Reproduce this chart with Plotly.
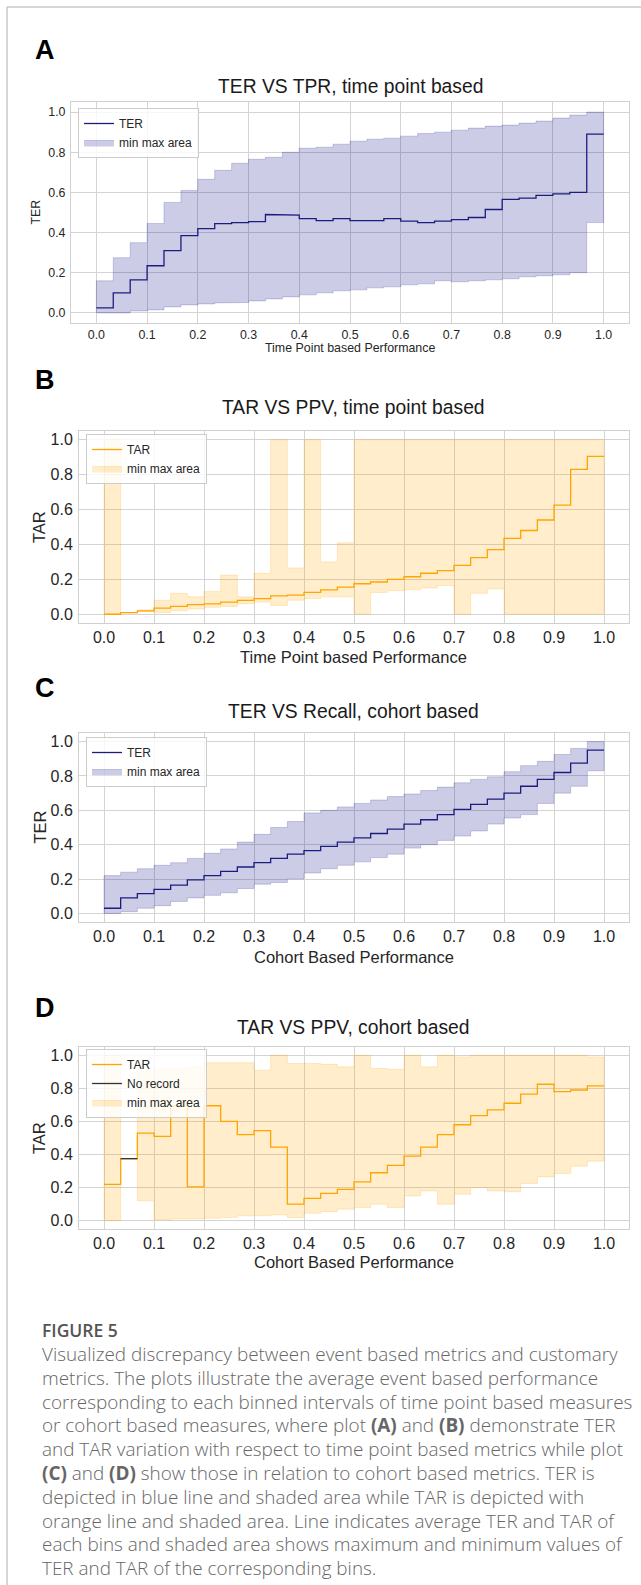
import plotly.graph_objects as go

# ---------------- data ----------------
BIN_EDGES = [0.0, 0.0333, 0.0667, 0.1, 0.1333, 0.1667, 0.2, 0.2333, 0.2667, 0.3,
             0.3333, 0.3667, 0.4, 0.4333, 0.4667, 0.5, 0.5333, 0.5667, 0.6, 0.6333,
             0.6667, 0.7, 0.7333, 0.7667, 0.8, 0.8333, 0.8667, 0.9, 0.9333, 0.9667, 1.0]

# A: TER vs TPR, time point based
ter_tp_mean = [0.025, 0.10, 0.165, 0.235, 0.31, 0.385, 0.42, 0.445, 0.45, 0.455,
               0.49, 0.487, 0.47, 0.46, 0.47, 0.46, 0.46, 0.47, 0.457, 0.45,
               0.457, 0.465, 0.475, 0.515, 0.565, 0.572, 0.585, 0.593, 0.60, 0.89]
ter_tp_max = [0.16, 0.275, 0.35, 0.445, 0.55, 0.61, 0.665, 0.71, 0.745, 0.765,
              0.775, 0.80, 0.82, 0.825, 0.84, 0.855, 0.865, 0.87, 0.88, 0.893,
              0.90, 0.91, 0.92, 0.93, 0.935, 0.945, 0.955, 0.97, 0.985, 1.0]
ter_tp_min = [0.0, 0.0, 0.01, 0.015, 0.03, 0.04, 0.045, 0.05, 0.052, 0.06,
              0.07, 0.08, 0.09, 0.10, 0.11, 0.115, 0.125, 0.13, 0.14, 0.145,
              0.16, 0.155, 0.16, 0.165, 0.17, 0.18, 0.185, 0.19, 0.20, 0.45]

# B: TAR vs PPV, time point based
tar_tp_mean = [0.0, 0.01, 0.02, 0.035, 0.045, 0.055, 0.06, 0.07, 0.08, 0.09,
               0.105, 0.11, 0.125, 0.14, 0.155, 0.175, 0.185, 0.20, 0.215, 0.235,
               0.25, 0.28, 0.325, 0.37, 0.435, 0.48, 0.54, 0.625, 0.83, 0.905]
tar_tp_max = [1.0, 0.01, 0.025, 0.08, 0.12, 0.10, 0.13, 0.225, 0.10, 0.235,
              1.0, 0.265, 1.0, 0.30, 0.41, 1.0, 1.0, 1.0, 1.0, 1.0,
              1.0, 1.0, 1.0, 1.0, 1.0, 1.0, 1.0, 1.0, 1.0, 1.0]
tar_tp_min = [0.0, 0.01, 0.015, 0.01, 0.02, 0.03, 0.04, 0.045, 0.06, 0.07,
              0.05, 0.08, 0.09, 0.10, 0.10, 0.0, 0.125, 0.135, 0.14, 0.15,
              0.165, 0.0, 0.12, 0.145, 0.0, 0.0, 0.0, 0.0, 0.0, 0.0]

# C: TER vs Recall, cohort based
ter_co_mean = [0.03, 0.09, 0.115, 0.14, 0.165, 0.195, 0.22, 0.245, 0.27, 0.295,
               0.32, 0.345, 0.365, 0.39, 0.415, 0.44, 0.465, 0.49, 0.52, 0.545,
               0.575, 0.605, 0.635, 0.665, 0.70, 0.74, 0.78, 0.82, 0.875, 0.95]
ter_co_max = [0.22, 0.24, 0.26, 0.28, 0.295, 0.32, 0.35, 0.375, 0.415, 0.46,
              0.50, 0.535, 0.585, 0.60, 0.62, 0.64, 0.66, 0.68, 0.695, 0.715,
              0.735, 0.76, 0.78, 0.795, 0.825, 0.86, 0.885, 0.925, 0.96, 1.0]
ter_co_min = [0.0, 0.01, 0.03, 0.045, 0.07, 0.09, 0.105, 0.12, 0.145, 0.17,
              0.18, 0.20, 0.235, 0.26, 0.28, 0.30, 0.325, 0.345, 0.38, 0.40,
              0.425, 0.45, 0.48, 0.52, 0.555, 0.575, 0.64, 0.70, 0.74, 0.83]

# D: TAR vs PPV, cohort based
tar_co_mean = [0.22, 0.375, 0.53, 0.51, 0.695, 0.205, 0.695, 0.60, 0.52, 0.545,
               0.445, 0.10, 0.135, 0.165, 0.19, 0.235, 0.29, 0.335, 0.39, 0.445,
               0.52, 0.58, 0.635, 0.67, 0.71, 0.765, 0.825, 0.78, 0.79, 0.815]
tar_co_max = [1.0, None, 0.90, 0.92, 0.92, 0.93, 0.955, 0.955, 0.955, 0.91,
              1.0, 0.95, 0.95, 0.945, 0.93, 1.0, 0.92, 0.915, 1.0, 0.93,
              1.0, 0.99, 1.0, 1.0, 1.0, 1.0, 1.0, 1.0, 1.0, 0.99]
tar_co_min = [0.0, None, 0.12, 0.005, 0.01, 0.01, 0.015, 0.02, 0.03, 0.03,
              0.035, 0.02, 0.045, 0.055, 0.07, 0.08, 0.10, 0.08, 0.15, 0.18,
              0.10, 0.16, 0.20, 0.18, 0.175, 0.225, 0.265, 0.285, 0.33, 0.36]
no_record_bins = [1]
no_record_vals = [0.375]

X_TICKS = [0.0, 0.1, 0.2, 0.3, 0.4, 0.5, 0.6, 0.7, 0.8, 0.9, 1.0]
Y_TICKS = [0.0, 0.2, 0.4, 0.6, 0.8, 1.0]

caption_lines = [
    "Visualized discrepancy between event based metrics and customary",
    "metrics. The plots illustrate the average event based performance",
    "corresponding to each binned intervals of time point based measures",
    "or cohort based measures, where plot <b>(A)</b> and <b>(B)</b> demonstrate TER",
    "and TAR variation with respect to time point based metrics while plot",
    "<b>(C)</b> and <b>(D)</b> show those in relation to cohort based metrics. TER is",
    "depicted in blue line and shaded area while TAR is depicted with",
    "orange line and shaded area. Line indicates average TER and TAR of",
    "each bins and shaded area shows maximum and minimum values of",
    "TER and TAR of the corresponding bins.",
]

# ---------------- helpers ----------------
W, H = 641, 1585
FONT = "Liberation Sans, Arial, sans-serif"
NAVY = "#1c1c80"
NAVY_FILL = "rgba(0,0,128,0.2)"
NAVY_EDGE = "rgba(0,0,128,0.18)"
ORANGE = "#FFA500"
ORANGE_FILL = "rgba(255,165,0,0.2)"
ORANGE_EDGE = "rgba(255,165,0,0.2)"


def step_xy(vals, bins=None):
    xs, ys = [], []
    idx = range(len(vals)) if bins is None else bins
    for k, i in enumerate(idx):
        v = vals[k] if bins is not None else vals[i]
        if v is None:
            xs.append(None)
            ys.append(None)
            continue
        xs += [BIN_EDGES[i], BIN_EDGES[i + 1]]
        ys += [v, v]
    return xs, ys


def band_xy(lo, hi):
    segs, cur = [], []
    for i in range(len(lo)):
        if lo[i] is None or hi[i] is None:
            if cur:
                segs.append(cur)
            cur = []
        else:
            cur.append(i)
    if cur:
        segs.append(cur)
    xs, ys = [], []
    for seg in segs:
        ux, uy, lx, ly = [], [], [], []
        for i in seg:
            ux += [BIN_EDGES[i], BIN_EDGES[i + 1]]
            uy += [hi[i], hi[i]]
            lx += [BIN_EDGES[i], BIN_EDGES[i + 1]]
            ly += [lo[i], lo[i]]
        xs += ux + lx[::-1] + [ux[0], None]
        ys += uy + ly[::-1] + [uy[0], None]
    return xs, ys


def px2x(p):
    return p / W


def px2y(p):
    return 1 - p / H


fig = go.Figure()

panels = [
    dict(mean=ter_tp_mean, lo=ter_tp_min, hi=ter_tp_max, name="TER", line=NAVY,
         fill=NAVY_FILL, edge=NAVY_EDGE, frame=(71, 629, 102, 323),
         title="TER VS TPR, time point based", title_y=87, letter="A", letter_y=50,
         xlabel="Time Point based Performance", xlabel_y=348, ylabel="TER",
         ylabel_x=35, tick=12.4, lab=12.4, leg_xy=(78, 108)),
    dict(mean=tar_tp_mean, lo=tar_tp_min, hi=tar_tp_max, name="TAR", line=ORANGE,
         fill=ORANGE_FILL, edge=ORANGE_EDGE, frame=(79, 629, 431, 623),
         title="TAR VS PPV, time point based", title_y=408, letter="B", letter_y=380,
         xlabel="Time Point based Performance", xlabel_y=657, ylabel="TAR",
         ylabel_x=39, tick=16, lab=16.5, leg_xy=(86, 434)),
    dict(mean=ter_co_mean, lo=ter_co_min, hi=ter_co_max, name="TER", line=NAVY,
         fill=NAVY_FILL, edge=NAVY_EDGE, frame=(79, 629, 733, 922),
         title="TER VS Recall, cohort based", title_y=712, letter="C", letter_y=688,
         xlabel="Cohort Based Performance", xlabel_y=957, ylabel="TER",
         ylabel_x=39, tick=16, lab=16.5, leg_xy=(86, 737)),
    dict(mean=tar_co_mean, lo=tar_co_min, hi=tar_co_max, name="TAR", line=ORANGE,
         fill=ORANGE_FILL, edge=ORANGE_EDGE, frame=(79, 629, 1047, 1229),
         title="TAR VS PPV, cohort based", title_y=1027, letter="D", letter_y=1008,
         xlabel="Cohort Based Performance", xlabel_y=1262, ylabel="TAR",
         ylabel_x=39, tick=16, lab=16.5, leg_xy=(86, 1049)),
]

annotations = []
for k, p in enumerate(panels):
    n = k + 1
    xa = "x" if n == 1 else f"x{n}"
    ya = "y" if n == 1 else f"y{n}"
    leg = "legend" if n == 1 else f"legend{n}"

    bx, by = band_xy(p["lo"], p["hi"])
    fig.add_trace(go.Scatter(x=bx, y=by, mode="lines", fill="toself",
                             fillcolor=p["fill"], line=dict(color=p["edge"], width=1),
                             name="min max area", xaxis=xa, yaxis=ya, legend=leg,
                             legendrank=3, hoverinfo="skip"))
    mx, my = step_xy(p["mean"])
    fig.add_trace(go.Scatter(x=mx, y=my, mode="lines",
                             line=dict(color=p["line"], width=1.3),
                             name=p["name"], xaxis=xa, yaxis=ya, legend=leg,
                             legendrank=1))
    if n == 4:
        nx, ny = step_xy(no_record_vals, bins=no_record_bins)
        fig.add_trace(go.Scatter(x=nx, y=ny, mode="lines",
                                 line=dict(color="#333333", width=1.3),
                                 name="No record", xaxis=xa, yaxis=ya, legend=leg,
                                 legendrank=2))

    l, r, t, b = p["frame"]
    axcommon = dict(range=[-0.05, 1.05], showgrid=True, gridcolor="#d4d4d4",
                    gridwidth=1, zeroline=False, showline=True, mirror=True,
                    linecolor="#d0d0d0", linewidth=1, ticks="",
                    tickfont=dict(family=FONT, size=p["tick"], color="#262626"),
                    tickformat=".1f", fixedrange=True)
    fig.update_layout(**{
        ("xaxis" if n == 1 else f"xaxis{n}"): dict(
            domain=[px2x(l), px2x(r)], anchor=ya, tickvals=X_TICKS,
            ticklabelstandoff=0, **axcommon),
        ("yaxis" if n == 1 else f"yaxis{n}"): dict(
            domain=[px2y(b), px2y(t)], anchor=xa, tickvals=Y_TICKS,
            ticklabelstandoff=2, **axcommon),
        leg: dict(x=px2x(p["leg_xy"][0]), y=px2y(p["leg_xy"][1]),
                  xanchor="left", yanchor="top", xref="paper", yref="paper",
                  bgcolor="rgba(255,255,255,0.8)", bordercolor="#cccccc",
                  borderwidth=1, font=dict(family=FONT, size=12, color="#262626"),
                  tracegroupgap=0, itemclick=False),
    })

    cx = px2x((l + r) / 2)
    annotations.append(dict(text=p["title"], x=cx, y=px2y(p["title_y"]),
                            xref="paper", yref="paper", showarrow=False,
                            xanchor="center", yanchor="middle",
                            font=dict(family=FONT, size=19.3, color="#1a1a1a")))
    annotations.append(dict(text=f"<b>{p['letter']}</b>", x=px2x(33), y=px2y(p["letter_y"]),
                            xref="paper", yref="paper", showarrow=False,
                            xanchor="left", yanchor="middle",
                            font=dict(family=FONT, size=27, color="#000000")))
    annotations.append(dict(text=p["xlabel"], x=cx, y=px2y(p["xlabel_y"]),
                            xref="paper", yref="paper", showarrow=False,
                            xanchor="center", yanchor="middle",
                            font=dict(family=FONT, size=p["lab"], color="#262626")))
    annotations.append(dict(text=p["ylabel"], x=px2x(p["ylabel_x"]),
                            y=px2y((t + b) / 2), xref="paper", yref="paper",
                            showarrow=False, textangle=-90, xanchor="center",
                            yanchor="middle",
                            font=dict(family=FONT, size=p["lab"], color="#262626")))

# caption
CAP_FONT = "Open Sans, Lato, sans-serif"
annotations.append(dict(text="FIGURE 5", x=px2x(40), y=px2y(1330), xref="paper",
                        yref="paper", showarrow=False, xanchor="left", yanchor="middle",
                        font=dict(family=CAP_FONT, size=17.5, color="#555555", weight=600)))
for i, line in enumerate(caption_lines):
    annotations.append(dict(text=line, x=px2x(40), y=px2y(1354 + 23.8 * i),
                            xref="paper", yref="paper", showarrow=False,
                            xanchor="left", yanchor="middle",
                            font=dict(family=CAP_FONT, size=18.9, color="#666666",
                                      weight=300)))

fig.update_layout(
    width=W, height=H, margin=dict(l=0, r=0, t=0, b=0),
    paper_bgcolor="white", plot_bgcolor="white",
    annotations=annotations, showlegend=True,
    shapes=[
        dict(type="line", xref="paper", yref="paper", x0=px2x(7), x1=1,
             y0=px2y(7), y1=px2y(7), line=dict(color="#c8c8c8", width=1.5)),
        dict(type="line", xref="paper", yref="paper", x0=px2x(7), x1=px2x(7),
             y0=px2y(7), y1=0, line=dict(color="#c8c8c8", width=1.5)),
    ],
)

fig.write_html(
    "out.html",
    config={"displayModeBar": False, "staticPlot": False},
    post_script="document.body.style.margin='0';document.body.style.padding='0';"
                "document.documentElement.style.overflow='hidden';",
)
